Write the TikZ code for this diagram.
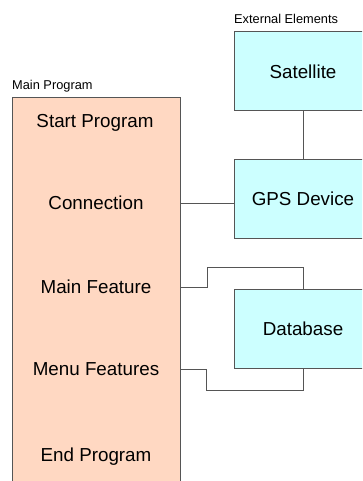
\documentclass[tikz,border=0pt]{standalone}
\usepackage{fontspec}
\setmainfont{Liberation Sans}
\definecolor{peach}{HTML}{FFD8C2}
\definecolor{paleCyan}{HTML}{CCFFFF}
\definecolor{edge}{HTML}{555555}
\tikzset{
  x=1pt, y=-1pt,
  box/.style={draw=edge, line width=1pt, rectangle, inner sep=0pt},
  mainbox/.style={box, fill=peach},
  extbox/.style={box, fill=paleCyan, minimum width=138pt, minimum height=79pt,
    font=\fontsize{18.8}{20}\selectfont},
  item/.style={font=\fontsize{18.8}{20}\selectfont, inner sep=0pt},
  caption/.style={font=\fontsize{12.8}{14}\selectfont, anchor=west, inner sep=0pt},
  wire/.style={draw=edge, line width=1pt},
}
\begin{document}
\begin{tikzpicture}
  \fill[white] (0,0) rectangle (362,481);
  \clip (0,0) rectangle (362,481);

  % left column: the program flow
  \node[caption] (mainlabel) at (12,86) {Main Program};
  \node[mainbox, minimum width=168pt, minimum height=402pt] (main) at (96,299) {};
  \node[item] (start) at (95,123) {Start Program};
  \node[item] (conn) at (96,203) {Connection};
  \node[item] (feat) at (96,287) {Main Feature};
  \node[item] (menu) at (96,369) {Menu Features};
  \node[item] (endp) at (96,457) {End Program};

  % right column: external elements
  \node[caption] (extlabel) at (234,19) {External Elements};
  \node[extbox] (sat) at (303,71.5) {Satellite};
  \node[extbox] (gps) at (303,198.5) {GPS Device};
  \node[extbox] (db) at (303,328.5) {Database};

  % connectors
  \coordinate (fa) at (207,267);
  \coordinate (mb) at (206,390);
  \draw[wire] (sat.south) -- (gps.north);
  \draw[wire] (conn -| main.east) -- (conn -| gps.west);
  \draw[wire] (feat -| main.east) -| (fa) -| (db.north);
  \draw[wire] (menu -| main.east) -| (mb) -| (db.south);
\end{tikzpicture}
\end{document}
